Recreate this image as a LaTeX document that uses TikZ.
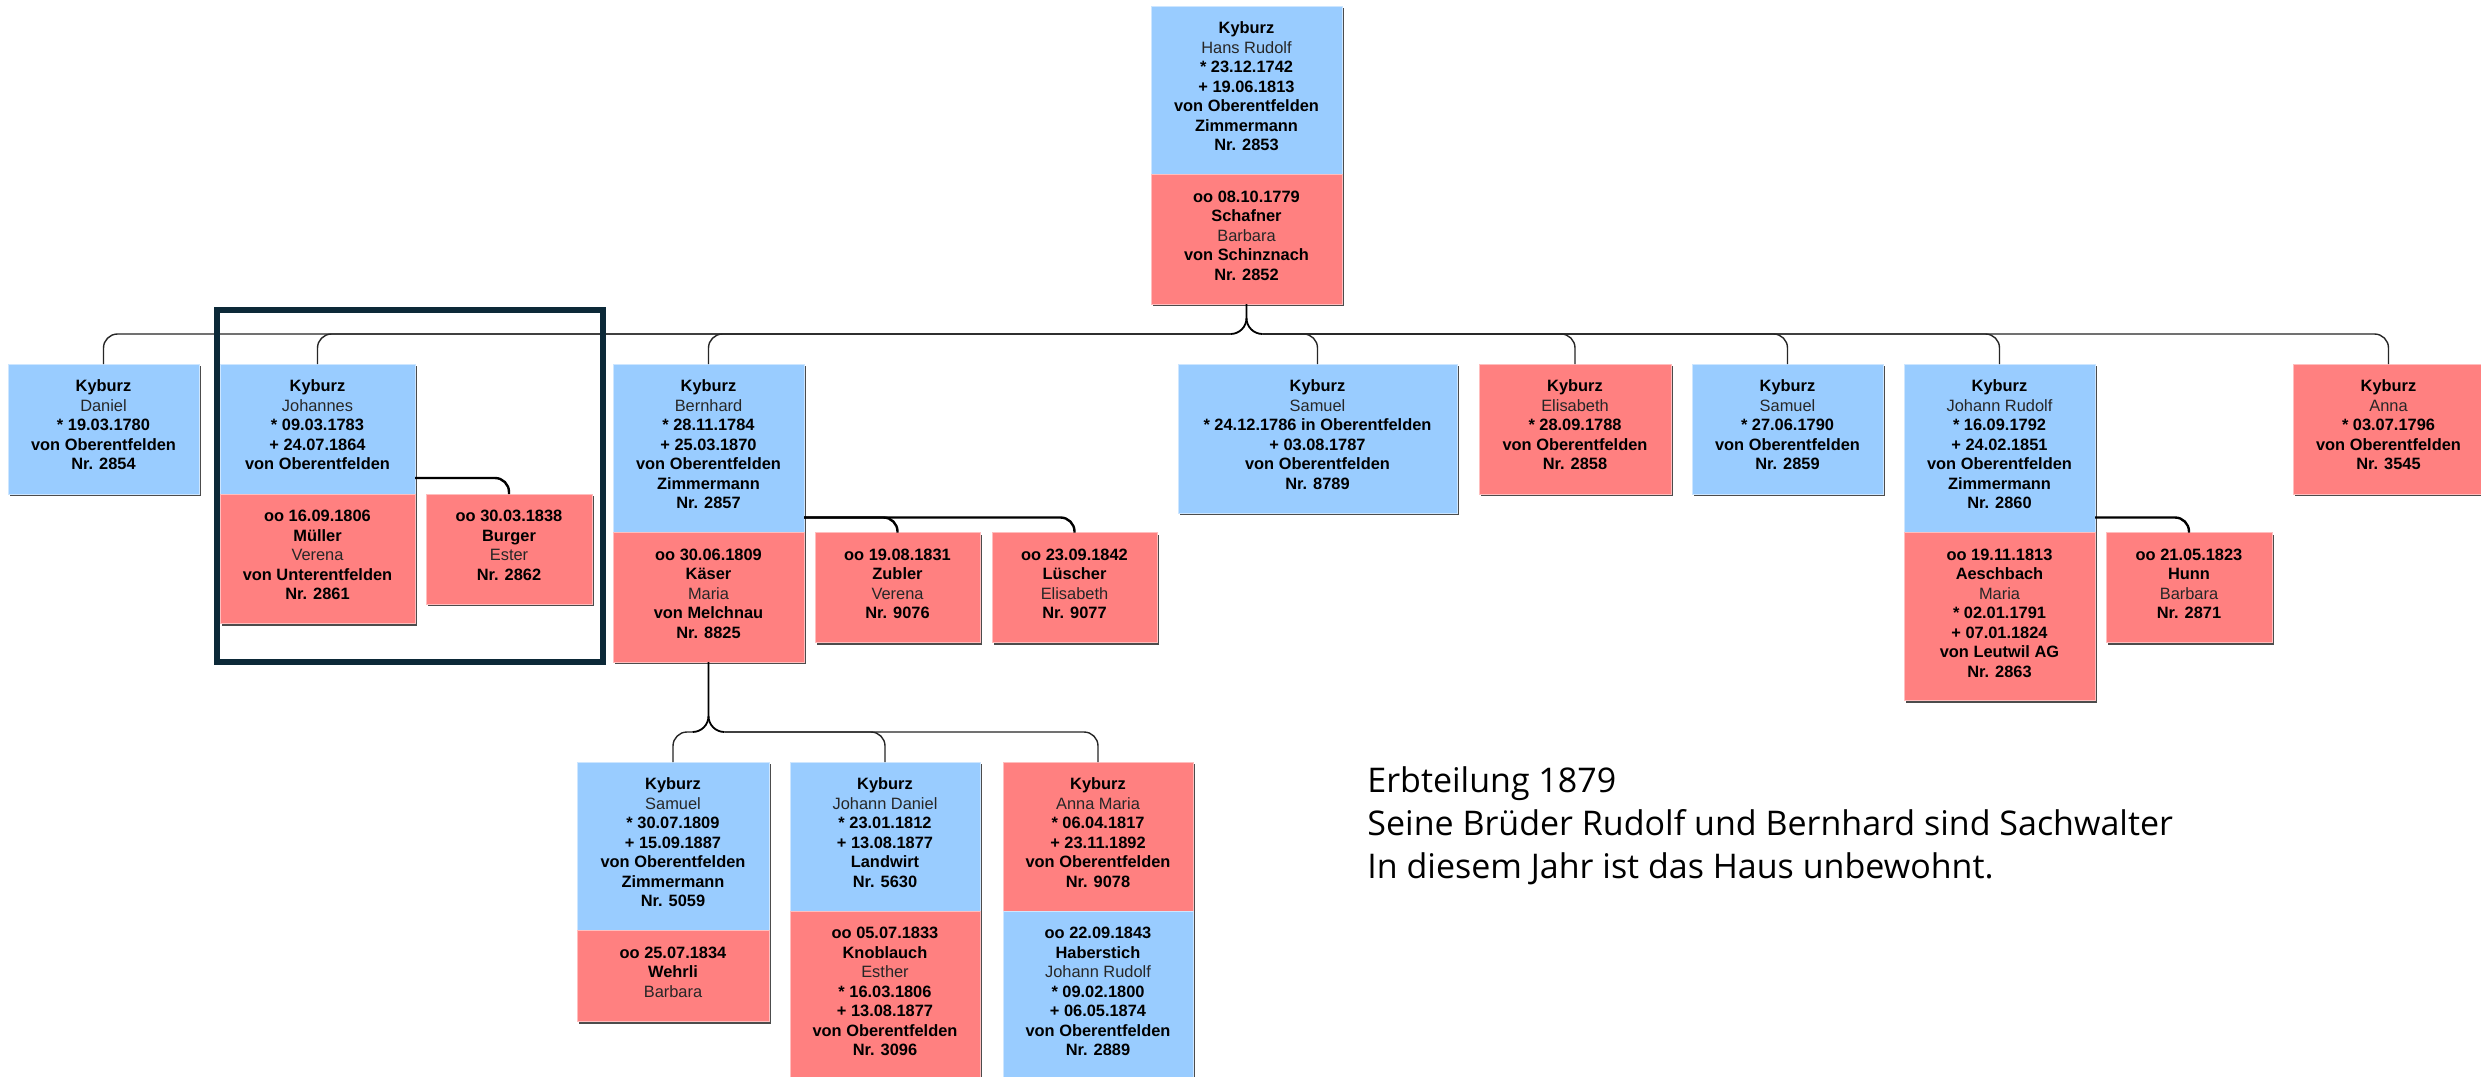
\documentclass[tikz,border=0pt]{standalone}
\usepackage{fontspec}
\setmainfont{Liberation Sans}
\newfontfamily\notefont{Open Sans}
\usetikzlibrary{calc}

\definecolor{cblue}{RGB}{153,204,255}
\definecolor{cblueedge}{RGB}{205,230,255}
\definecolor{cred}{RGB}{255,128,128}
\definecolor{crededge}{RGB}{255,190,190}
\definecolor{cframe}{RGB}{12,41,56}

\newcommand{\cardfont}{\fontsize{8.2}{9.75}\selectfont\bfseries}
\newcommand{\gn}[1]{{\mdseries\color{black!85}#1}}

% one coloured part of a family card: name, x, y, width, height (px), style, lines
\newcommand{\cardpart}[7]{%
  \node[cardshadow, minimum width={#4*0.5pt}, minimum height={#5*0.5pt}] (#1-sh) at (#2+2,#3+2) {};
  \node[#6, minimum width={#4*0.5pt}, minimum height={#5*0.5pt}] (#1) at (#2,#3) {};
  \node[cardtext] (#1-txt) at ([yshift=-6.75pt]#1.north) {\rule{0pt}{7pt}#7};
}

\tikzset{
  cardshadow/.style={anchor=north west, inner sep=0, outer sep=0, fill=black!70, draw=none},
  bluecard/.style={anchor=north west, inner sep=0, outer sep=0, fill=cblue, draw=cblueedge, line width=0.5pt},
  redcard/.style={anchor=north west, inner sep=0, outer sep=0, fill=cred, draw=crededge, line width=0.5pt},
  cardtext/.style={anchor=north, inner sep=0, align=center, font=\cardfont},
  bus/.style={line width=0.7pt, black!85, rounded corners=7pt},
  stem/.style={line width=0.9pt, black},
  spouse/.style={line width=1.2pt, black, rounded corners=7pt},
  focus/.style={line width=3pt, cframe},
}

\begin{document}
\begin{tikzpicture}[x=0.5pt, y=-0.5pt]
\fill[white] (0,0) rectangle (2481,1077);
\useasboundingbox (0,0) rectangle (2481,1077);

% parents
\cardpart{tp-b}{1151}{6}{191}{168.5}{bluecard}{Kyburz\\\gn{Hans Rudolf}\\* 23.12.1742\\+ 19.06.1813\\von Oberentfelden\\Zimmermann\\Nr. 2853}
\cardpart{tp-r}{1151}{174.5}{191}{129.5}{redcard}{oo 08.10.1779\\Schafner\\\gn{Barbara}\\von Schinznach\\Nr. 2852}

% children
\cardpart{da}{8}{364}{191}{130}{bluecard}{Kyburz\\\gn{Daniel}\\* 19.03.1780\\von Oberentfelden\\Nr. 2854}

\cardpart{jo-b}{220}{364}{195}{130}{bluecard}{Kyburz\\\gn{Johannes}\\* 09.03.1783\\+ 24.07.1864\\von Oberentfelden}
\cardpart{jo-r}{220}{494}{195}{129.5}{redcard}{oo 16.09.1806\\Müller\\\gn{Verena}\\von Unterentfelden\\Nr. 2861}
\cardpart{bu}{426}{494}{166}{110}{redcard}{oo 30.03.1838\\Burger\\\gn{Ester}\\Nr. 2862}

\cardpart{be-b}{613}{364}{191}{168.5}{bluecard}{Kyburz\\\gn{Bernhard}\\* 28.11.1784\\+ 25.03.1870\\von Oberentfelden\\Zimmermann\\Nr. 2857}
\cardpart{be-r}{613}{532.5}{191}{129.5}{redcard}{oo 30.06.1809\\Käser\\\gn{Maria}\\von Melchnau\\Nr. 8825}
\cardpart{zu}{815}{532.5}{165}{110}{redcard}{oo 19.08.1831\\Zubler\\\gn{Verena}\\Nr. 9076}
\cardpart{lu}{992}{532.5}{165}{110}{redcard}{oo 23.09.1842\\Lüscher\\\gn{Elisabeth}\\Nr. 9077}

\cardpart{sa}{1178}{364}{279}{149}{bluecard}{Kyburz\\\gn{Samuel}\\* 24.12.1786 in Oberentfelden\\+ 03.08.1787\\von Oberentfelden\\Nr. 8789}
\cardpart{el}{1479}{364}{192}{130}{redcard}{Kyburz\\\gn{Elisabeth}\\* 28.09.1788\\von Oberentfelden\\Nr. 2858}
\cardpart{s2}{1692}{364}{191}{130}{bluecard}{Kyburz\\\gn{Samuel}\\* 27.06.1790\\von Oberentfelden\\Nr. 2859}

\cardpart{jr-b}{1904}{364}{191}{168.5}{bluecard}{Kyburz\\\gn{Johann Rudolf}\\* 16.09.1792\\+ 24.02.1851\\von Oberentfelden\\Zimmermann\\Nr. 2860}
\cardpart{jr-r}{1904}{532.5}{191}{168}{redcard}{oo 19.11.1813\\Aeschbach\\\gn{Maria}\\* 02.01.1791\\+ 07.01.1824\\von Leutwil AG\\Nr. 2863}
\cardpart{hu}{2106}{532.5}{166}{110}{redcard}{oo 21.05.1823\\Hunn\\\gn{Barbara}\\Nr. 2871}

\cardpart{an}{2293}{364}{191}{130}{redcard}{Kyburz\\\gn{Anna}\\* 03.07.1796\\von Oberentfelden\\Nr. 3545}

% grandchildren (Bernhard's line)
\cardpart{s3-b}{577}{762}{192}{168.5}{bluecard}{Kyburz\\\gn{Samuel}\\* 30.07.1809\\+ 15.09.1887\\von Oberentfelden\\Zimmermann\\Nr. 5059}
\cardpart{s3-r}{577}{930.5}{192}{91}{redcard}{oo 25.07.1834\\Wehrli\\\gn{Barbara}}
\cardpart{jd-b}{790}{762}{190}{149}{bluecard}{Kyburz\\\gn{Johann Daniel}\\* 23.01.1812\\+ 13.08.1877\\Landwirt\\Nr. 5630}
\cardpart{jd-r}{790}{911}{190}{168.5}{redcard}{oo 05.07.1833\\Knoblauch\\\gn{Esther}\\* 16.03.1806\\+ 13.08.1877\\von Oberentfelden\\Nr. 3096}
\cardpart{am-t}{1003}{762}{190}{149}{redcard}{Kyburz\\\gn{Anna Maria}\\* 06.04.1817\\+ 23.11.1892\\von Oberentfelden\\Nr. 9078}
\cardpart{am-s}{1003}{911}{190}{168.5}{bluecard}{oo 22.09.1843\\Haberstich\\\gn{Johann Rudolf}\\* 09.02.1800\\+ 06.05.1874\\von Oberentfelden\\Nr. 2889}

% descent from the parents to the children
\coordinate (g1) at (tp-r.south |- 0,318);
\coordinate (g1l) at ($(tp-r.south |- 0,334)+(-16,0)$);
\coordinate (g1r) at ($(tp-r.south |- 0,334)+(16,0)$);
\draw[stem] (tp-r.south) -- (g1) to[out=-90,in=0] (g1l);
\draw[stem] (g1) to[out=-90,in=180] (g1r);
\foreach \c in {da,jo-b,be-b} \draw[bus] (g1l) -| (\c.north);
\foreach \c in {sa,el,s2,jr-b,an} \draw[bus] (g1r) -| (\c.north);

% descent from Bernhard to his children
\coordinate (g2) at (be-r.south |- 0,716);
\coordinate (g2l) at ($(be-r.south |- 0,732)+(-16,0)$);
\coordinate (g2r) at ($(be-r.south |- 0,732)+(16,0)$);
\draw[stem] (be-r.south) -- (g2) to[out=-90,in=0] (g2l);
\draw[stem] (g2) to[out=-90,in=180] (g2r);
\draw[bus] (g2l) -| (s3-b.north);
\foreach \c in {jd-b,am-t} \draw[bus] (g2r) -| (\c.north);

% further marriages
\draw[spouse] ([yshift=8pt]jo-b.south east) -| (bu.north);
\draw[spouse] ([yshift=7.5pt]be-b.south east) -| (zu.north);
\draw[spouse] ([yshift=7.5pt]be-b.south east) -| (lu.north);
\draw[spouse] ([yshift=7.5pt]jr-b.south east) -| (hu.north);

% highlighted household
\draw[focus] (216.5,310) rectangle (603,662);

% note
\node[anchor=north west, inner sep=0, align=left, font=\notefont\fontsize{17}{21.5}\selectfont] (note) at (1367,766)
  {\rule{0pt}{13pt}Erbteilung 1879\\Seine Brüder Rudolf und Bernhard sind Sachwalter\\In diesem Jahr ist das Haus unbewohnt.};
\end{tikzpicture}
\end{document}
